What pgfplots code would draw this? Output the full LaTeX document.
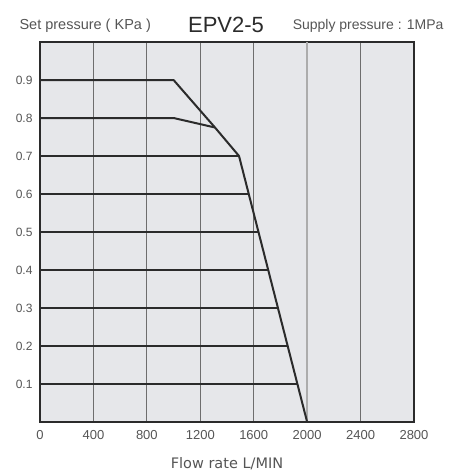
\documentclass[border=0pt]{standalone}
\usepackage{fontspec}
\setmainfont{Liberation Sans}
\newfontfamily\wide{DejaVu Sans}
\usepackage{pgfplots}
\pgfplotsset{compat=1.18}
\definecolor{bg}{HTML}{E6E7EA}
\definecolor{ln}{HTML}{2B2B2B}
\definecolor{gr}{HTML}{6E6E6E}
\definecolor{tx}{HTML}{555555}
\begin{document}
\begin{tikzpicture}[x=1pt,y=1pt]
\path[use as bounding box] (-40,-53) rectangle (415,422);
\begin{axis}[
  at={(0,0)}, anchor=south west,
  width=374pt, height=380pt, scale only axis,
  xmin=0, xmax=2800, ymin=0, ymax=1,
  axis background/.style={fill=bg},
  axis line style={ln, line width=2.4pt},
  xtick={0,400,...,2800},
  ytick={0.1,0.2,...,0.9},
  yticklabels={0.1,0.2,0.3,0.4,0.5,0.6,0.7,0.8,0.9},
  xticklabel style={font=\fontsize{13}{14}\selectfont, text=tx, yshift=-5pt},
  yticklabel style={font=\fontsize{12}{13}\selectfont, text=tx, xshift=-4pt},
  /pgf/number format/assume math mode=true,
  /pgf/number format/1000 sep={},
  major tick length=0pt,
  xmajorgrids, grid style={gr, line width=1.1pt},
  xlabel={Flow rate L/MIN},
  xlabel style={font=\wide\fontsize{14.5}{16}\selectfont, text=tx, yshift=-11pt},
  clip=false,
]
\addplot[draw=gray!65, line width=2.6pt] coordinates {(2000,0) (2000,1)};
\addplot[ln, line width=2pt] coordinates {(0,0.9) (1000,0.9) (1310,0.775) (1490,0.7) (2000,0)};
\addplot[ln, line width=2pt] coordinates {(0,0.8) (1000,0.8) (1310,0.775)};
\addplot[ln, line width=2pt] coordinates {(0,0.7) (1490,0.7)};
\addplot[ln, line width=2pt] coordinates {(0,0.6) (1563,0.6)};
\addplot[ln, line width=2pt] coordinates {(0,0.5) (1636,0.5)};
\addplot[ln, line width=2pt] coordinates {(0,0.4) (1709,0.4)};
\addplot[ln, line width=2pt] coordinates {(0,0.3) (1781,0.3)};
\addplot[ln, line width=2pt] coordinates {(0,0.2) (1854,0.2)};
\addplot[ln, line width=2pt] coordinates {(0,0.1) (1927,0.1)};
\end{axis}
\node[anchor=west, font=\fontsize{14.5}{16}\selectfont, text=tx] at (-24,396) {Set pressure ( KPa )};
\node[font=\fontsize{22}{24}\selectfont, text=ln] at (186,397) {EPV2-5};
\node[anchor=east, font=\fontsize{14}{16}\selectfont, text=tx] at (407,396) {Supply pressure : 1MPa};
\end{tikzpicture}
\end{document}
